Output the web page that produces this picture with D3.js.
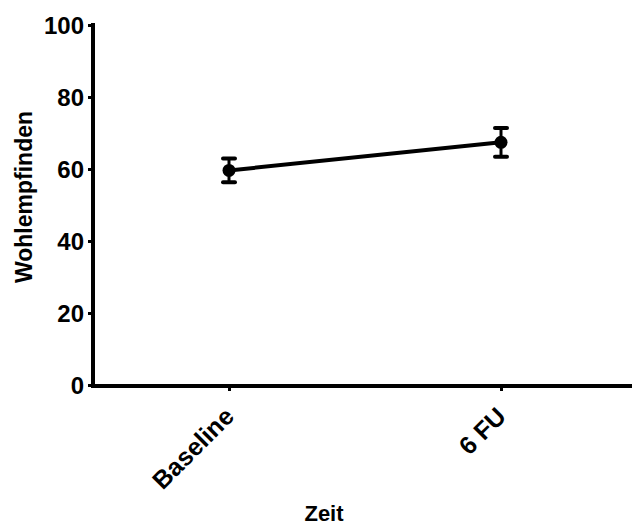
<!DOCTYPE html>
<html>
<head>
<meta charset="utf-8">
<script src="https://cdn.jsdelivr.net/npm/d3@7"></script>
<style>
  body { margin: 0; background: #fff; }
  text { font-family: "Liberation Sans", Arial, sans-serif; font-weight: bold; fill: #000; }
</style>
</head>
<body>
<div id="chart"></div>
<script>
// data
const categories = ["Baseline", "6 FU"];
const means = [59.6, 67.4];
const errors = [3.3, 4.0];
const yTicks = [0, 20, 40, 60, 80, 100];

const width = 634, height = 527;
const margin = {top: 25, right: 2, bottom: 142, left: 93};

const svg = d3.select("#chart").append("svg")
    .attr("width", width)
    .attr("height", height);

// scales
const yScale = d3.scaleLinear().domain([0, 100]).range([385, 25]);
const xScale = d3.scalePoint().domain(categories).range([229, 501]);

// y axis
const yAxis = d3.axisLeft(yScale).tickValues(yTicks).tickSizeOuter(0).tickSize(5).tickPadding(4);
const gy = svg.append("g")
    .attr("transform", "translate(" + margin.left + ",0)")
    .call(yAxis);
gy.select(".domain").attr("stroke-width", 4).attr("d", "M0,23V388");
gy.selectAll(".tick line").attr("stroke-width", 3);
gy.selectAll(".tick text").style("font-size", "24px").attr("dy", "0.36em");

// x axis
const xAxis = d3.axisBottom(xScale).tickSizeOuter(0).tickSize(5);
const gx = svg.append("g")
    .attr("transform", "translate(0,386)")
    .call(xAxis);
gx.select(".domain").attr("stroke-width", 4).attr("d", "M91,0H632");
gx.selectAll(".tick line").attr("stroke-width", 3);
gx.selectAll(".tick text")
    .style("font-size", "25px")
    .attr("text-anchor", "end")
    .attr("x", 0)
    .attr("y", 0)
    .attr("dy", 0)
    .attr("transform", "translate(6,32) rotate(-45)");

// axis titles
svg.append("text")
    .attr("transform", "translate(32,197) rotate(-90)")
    .attr("text-anchor", "middle")
    .style("font-size", "23px")
    .text("Wohlempfinden");

svg.append("text")
    .attr("x", 324)
    .attr("y", 521)
    .attr("text-anchor", "middle")
    .style("font-size", "22px")
    .text("Zeit");

// mean line
const line = d3.line()
    .x(function(d, i) { return xScale(categories[i]); })
    .y(function(d) { return yScale(d); });

svg.append("path")
    .datum(means)
    .attr("d", line)
    .attr("fill", "none")
    .attr("stroke", "#000")
    .attr("stroke-width", 4);

// error bars
const eb = svg.selectAll(".err").data(means).enter().append("g").attr("class", "err");
eb.append("line")
    .attr("x1", function(d, i) { return xScale(categories[i]); })
    .attr("x2", function(d, i) { return xScale(categories[i]); })
    .attr("y1", function(d, i) { return yScale(d + errors[i]); })
    .attr("y2", function(d, i) { return yScale(d - errors[i]); })
    .attr("stroke", "#000").attr("stroke-width", 3);
[1, -1].forEach(function(s) {
    eb.append("line")
        .attr("x1", function(d, i) { return xScale(categories[i]) - 6; })
        .attr("x2", function(d, i) { return xScale(categories[i]) + 6; })
        .attr("y1", function(d, i) { return yScale(d + s * errors[i]); })
        .attr("y2", function(d, i) { return yScale(d + s * errors[i]); })
        .attr("stroke", "#000").attr("stroke-width", 4).attr("stroke-linecap", "round");
});

// points
svg.selectAll(".dot").data(means).enter().append("circle")
    .attr("class", "dot")
    .attr("cx", function(d, i) { return xScale(categories[i]); })
    .attr("cy", function(d) { return yScale(d); })
    .attr("r", 6.5)
    .attr("fill", "#000");
</script>
</body>
</html>
